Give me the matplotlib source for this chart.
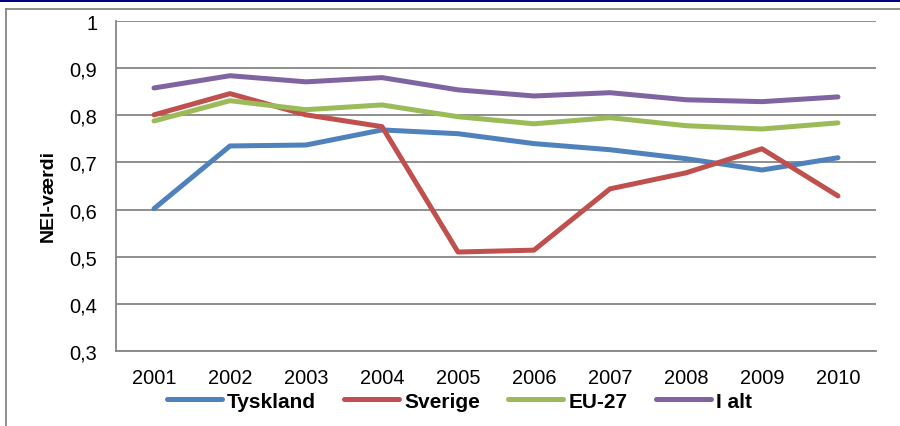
import numpy as np
import matplotlib.pyplot as plt
from matplotlib.lines import Line2D

years = ["2001", "2002", "2003", "2004", "2005", "2006", "2007", "2008", "2009", "2010"]
tyskland = [0.602, 0.735, 0.737, 0.769, 0.761, 0.740, 0.727, 0.708, 0.684, 0.710]
sverige = [0.801, 0.846, 0.801, 0.776, 0.510, 0.514, 0.644, 0.678, 0.729, 0.629]
eu27 = [0.788, 0.831, 0.812, 0.822, 0.797, 0.782, 0.795, 0.778, 0.771, 0.784]
i_alt = [0.858, 0.884, 0.871, 0.880, 0.854, 0.841, 0.848, 0.833, 0.829, 0.839]
y_ticks = [0.3, 0.4, 0.5, 0.6, 0.7, 0.8, 0.9, 1.0]
y_tick_labels = ["0,3", "0,4", "0,5", "0,6", "0,7", "0,8", "0,9", "1"]

plt.rcParams['font.family'] = ['Liberation Sans', 'DejaVu Sans']
fs = 14.4

fig = plt.figure(figsize=(9, 4.27), dpi=100)
ax = fig.add_axes([0.1289, 0.1756, 0.8444, 0.7728])

x = np.arange(len(years))
series = [
    ("Tyskland", tyskland, "#4F81BD"),
    ("Sverige", sverige, "#C0504D"),
    ("EU-27", eu27, "#9BBB59"),
    ("I alt", i_alt, "#8064A2"),
]
for name, vals, col in series:
    ax.plot(x, vals, color=col, lw=3.6, label=name, solid_capstyle='round', solid_joinstyle='round')

ax.set_xlim(-0.5, 9.5)
ax.set_ylim(0.3, 1.0)
ax.set_yticks(y_ticks)
ax.set_yticklabels(y_tick_labels)
ax.set_xticks(x)
ax.set_xticklabels(years)
ax.tick_params(axis='both', length=0, labelsize=fs, colors='black')
ax.tick_params(axis='y', pad=13.5)
ax.tick_params(axis='x', pad=12)
ax.grid(axis='y', color='#868686', lw=1.3)
ax.set_axisbelow(True)
for s in ['top', 'right']:
    ax.spines[s].set_visible(False)
for s in ['left', 'bottom']:
    ax.spines[s].set_color('#868686')
    ax.spines[s].set_linewidth(1.3)

ax.set_ylabel("NEI-værdi", fontsize=14, fontweight='bold')
ax.yaxis.set_label_coords(-0.078, 0.473)

fig.legend(loc='center', bbox_to_anchor=(0.5105, 0.058), ncol=4, frameon=False,
           prop={'weight': 'bold', 'size': 15}, handlelength=2.64,
           handletextpad=0.25, columnspacing=1.35)

# navy bar at top and grey frame
fig.add_artist(plt.Rectangle((0, 1 - 3 / 427), 1, 3 / 427, transform=fig.transFigure,
                             color='#000080', lw=0))
fig.add_artist(Line2D([5.5 / 900, 1], [1 - 9.5 / 427, 1 - 9.5 / 427],
                      transform=fig.transFigure, color='#868686', lw=1.3))
fig.add_artist(Line2D([5.5 / 900, 5.5 / 900], [0, 1 - 9.5 / 427],
                      transform=fig.transFigure, color='#868686', lw=1.3))

fig.savefig("out.png", dpi=100)
